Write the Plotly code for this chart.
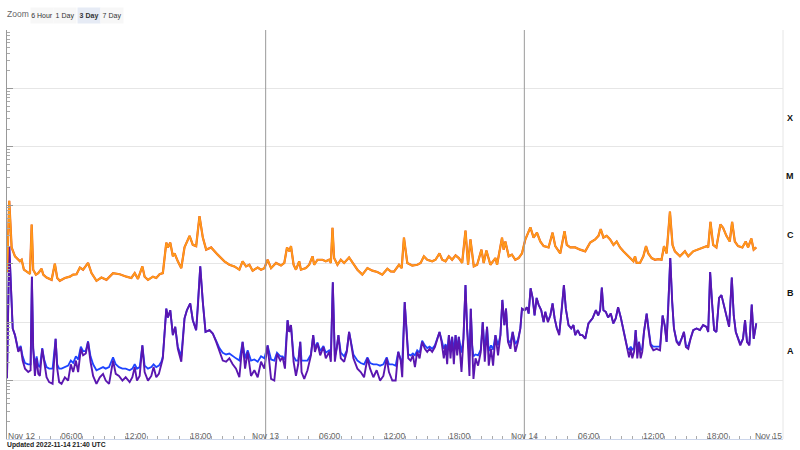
import pandas as pd
import plotly.graph_objects as go

# ---------------- data ----------------
start = pd.Timestamp("2022-11-12 00:00")
end = pd.Timestamp("2022-11-15 00:00")

# long channel 0.1-0.8 nm (orange): (hours since start, W/m^2)
long_series = [
    (0.0,7.0e-7),(0.21,1.19e-5),(0.43,1.9e-6),(0.74,1.34e-6),(1.20,1.1e-6),(1.36,1.17e-6),(1.57,7.9e-7),(2.13,6.7e-7),(2.29,4.7e-6),(2.43,7.9e-7),
    (2.68,6.5e-7),(2.90,6.9e-7),(3.21,8.2e-7),(3.36,6.5e-7),(3.67,5.8e-7),(4.14,5.3e-7),(4.44,1.0e-6),(4.66,5.7e-7),(4.90,5.1e-7),(5.37,5.7e-7),
    (5.83,6.0e-7),(6.14,6.5e-7),(6.45,6.6e-7),(6.76,8.6e-7),(7.06,7.9e-7),(7.52,1.03e-6),(7.84,6.9e-7),(8.30,5.1e-7),(8.76,5.8e-7),(9.23,5.3e-7),
    (9.84,6.9e-7),(10.46,6.6e-7),(11.08,6.0e-7),(11.54,5.7e-7),(11.85,6.9e-7),(12.15,5.5e-7),(12.56,9.0e-7),(12.77,6.0e-7),(13.08,5.3e-7),(13.54,6.0e-7),
    (13.85,5.7e-7),(14.16,6.6e-7),(14.46,6.9e-7),(14.78,2.3e-6),(14.93,1.9e-6),(15.15,2.3e-6),(15.39,1.34e-6),(15.55,1.5e-6),(15.85,1.1e-6),(16.17,8.4e-7),
    (16.47,1.9e-6),(16.94,3.0e-6),(17.24,2.1e-6),(17.55,2.0e-6),(17.86,6.5e-6),(18.17,2.8e-6),(18.48,1.74e-6),(18.94,1.9e-6),(19.55,1.43e-6),(20.17,1.1e-6),
    (20.63,9.6e-7),(21.09,9.0e-7),(21.56,7.9e-7),(21.86,1.1e-6),(22.18,9.0e-7),(22.49,9.6e-7),(22.79,7.6e-7),(23.26,8.6e-7),(23.57,7.9e-7),(23.88,8.4e-7),
    (24.18,1.17e-6),(24.50,8.4e-7),(24.96,1.03e-6),(25.42,9.3e-7),(25.73,1.03e-6),(25.98,1.9e-6),(26.19,1.63e-6),(26.35,2.0e-6),(26.59,9.6e-7),(26.81,7.9e-7),
    (27.11,1.1e-6),(27.27,7.9e-7),(27.73,8.4e-7),(28.04,9.6e-7),(28.35,1.34e-6),(28.50,9.6e-7),(28.81,1.17e-6),(29.27,1.17e-6),(29.58,1.1e-6),(29.89,1.17e-6),
    (30.05,1.03e-6),(30.20,4.1e-6),(30.35,1.25e-6),(30.66,9.6e-7),(30.97,1.17e-6),(31.28,1.03e-6),(31.74,1.28e-6),(32.05,1.03e-6),(32.51,7.9e-7),(32.97,6.5e-7),
    (33.44,8.4e-7),(33.90,7.6e-7),(34.36,7.2e-7),(34.82,6.5e-7),(35.29,8.2e-7),(35.60,7.4e-7),(35.91,7.3e-7),(36.37,9.6e-7),(36.62,8.4e-7),(36.83,2.8e-6),
    (37.14,1.03e-6),(37.60,9.3e-7),(38.07,9.6e-7),(38.38,1.03e-6),(38.68,1.34e-6),(38.99,1.17e-6),(39.45,1.1e-6),(39.76,1.17e-6),(40.13,1.5e-6),(40.38,1.17e-6),
    (40.69,1.1e-6),(40.99,1.34e-6),(41.30,1.17e-6),(41.62,1.39e-6),(41.92,1.25e-6),(42.23,1.03e-6),(42.54,3.7e-6),(42.78,9.6e-7),(43.00,2.6e-6),(43.31,9.0e-7),
    (43.62,9.6e-7),(44.02,1.74e-6),(44.23,1.03e-6),(44.48,1.68e-6),(44.85,9.6e-7),(45.32,1.25e-6),(45.47,9.6e-7),(45.93,2.8e-6),(46.08,1.74e-6),(46.24,2.4e-6),
    (46.55,1.34e-6),(46.85,1.43e-6),(47.16,1.17e-6),(47.47,1.25e-6),(47.78,1.5e-6),(48.09,2.6e-6),(48.56,4.2e-6),(48.86,2.8e-6),(49.17,3.4e-6),(49.48,2.4e-6),
    (49.79,2.0e-6),(50.25,1.9e-6),(50.62,3.4e-6),(50.87,2.0e-6),(51.33,1.5e-6),(51.73,3.6e-6),(51.94,2.1e-6),(52.26,1.9e-6),(52.72,1.9e-6),(53.18,1.74e-6),
    (53.65,1.63e-6),(54.11,2.3e-6),(54.57,2.6e-6),(54.88,3.0e-6),(55.09,3.9e-6),(55.34,2.8e-6),(55.64,3.0e-6),(55.96,2.6e-6),(56.27,2.1e-6),(56.57,2.4e-6),
    (56.88,1.9e-6),(57.19,1.63e-6),(57.50,1.43e-6),(57.81,1.25e-6),(58.12,1.1e-6),(58.27,1.34e-6),(58.42,1.03e-6),(58.73,1.03e-6),(59.04,1.34e-6),(59.29,2.0e-6),
    (59.50,1.5e-6),(59.81,1.25e-6),(60.12,1.17e-6),(60.43,1.2e-6),(60.73,1.17e-6),(60.96,2.0e-6),(61.20,1.5e-6),(61.51,7.8e-6),(61.75,2.1e-6),(61.97,1.63e-6),
    (62.44,1.34e-6),(62.90,1.63e-6),(63.21,1.34e-6),(63.67,1.63e-6),(64.13,1.74e-6),(64.59,1.9e-6),(64.90,2.0e-6),(65.06,1.9e-6),(65.27,5.2e-6),(65.52,2.1e-6),
    (65.82,1.9e-6),(66.19,4.7e-6),(66.44,4.1e-6),(66.75,3.0e-6),(67.06,2.4e-6),(67.28,5.2e-6),(67.53,2.4e-6),(67.83,2.0e-6),(68.23,1.9e-6),(68.54,2.4e-6),
    (68.76,1.9e-6),(69.06,2.7e-6),(69.28,1.74e-6),(69.52,1.9e-6),
]

# short channel 0.05-0.4 nm, sample times (hours since start)
short_hours = [
    0.0, 0.21, 0.53, 0.74, 1.05, 1.27, 1.45, 1.67, 1.97, 2.19,
    2.31, 2.43, 2.59, 2.75, 2.90, 3.05, 3.27, 3.45, 3.67, 3.91,
    4.23, 4.51, 4.66, 4.84, 5.06, 5.37, 5.67, 5.92, 6.14, 6.39,
    6.60, 6.85, 7.06, 7.31, 7.52, 7.75, 7.99, 8.30, 8.61, 8.91,
    9.16, 9.47, 9.84, 10.09, 10.39, 10.71, 11.01, 11.38, 11.63, 11.85,
    12.06, 12.31, 12.56, 12.77, 13.08, 13.39, 13.60, 13.85, 14.09, 14.32,
    14.46, 14.78, 14.93, 15.15, 15.39, 15.61, 15.85, 16.17, 16.47, 16.69,
    17.00, 17.24, 17.55, 17.70, 17.93, 18.17, 18.42, 18.79, 19.09, 19.41,
    19.71, 20.02, 20.33, 20.63, 20.94, 21.25, 21.56, 21.86, 22.09, 22.33,
    22.64, 22.95, 23.26, 23.57, 23.88, 24.18, 24.50, 24.80, 25.05, 25.36,
    25.57, 25.79, 26.03, 26.19, 26.35, 26.59, 26.81, 27.02, 27.21, 27.33,
    27.58, 27.88, 28.20, 28.41, 28.57, 28.81, 29.06, 29.36, 29.58, 29.89,
    30.05, 30.23, 30.42, 30.60, 30.75, 30.97, 31.28, 31.53, 31.74, 31.90,
    32.14, 32.51, 32.82, 33.13, 33.44, 33.69, 33.99, 34.30, 34.61, 34.92,
    35.23, 35.44, 35.75, 36.06, 36.30, 36.53, 36.67, 36.90, 37.04, 37.23,
    37.45, 37.66, 37.85, 38.06, 38.28, 38.52, 38.77, 38.99, 39.21, 39.45,
    39.70, 39.91, 40.13, 40.32, 40.53, 40.69, 40.84, 41.00, 41.15, 41.30,
    41.46, 41.62, 41.77, 41.92, 42.17, 42.35, 42.54, 42.69, 42.91, 43.03,
    43.16, 43.28, 43.47, 43.71, 43.96, 44.14, 44.33, 44.54, 44.70, 44.91,
    45.10, 45.32, 45.56, 45.78, 45.96, 46.15, 46.30, 46.48, 46.71, 46.92,
    47.17, 47.41, 47.63, 47.78, 48.03, 48.24, 48.40, 48.58, 48.77, 48.95,
    49.14, 49.32, 49.57, 49.79, 49.94, 50.19, 50.41, 50.62, 50.81, 51.02,
    51.24, 51.48, 51.67, 51.85, 52.10, 52.35, 52.56, 52.72, 52.96, 53.18,
    53.39, 53.65, 53.95, 54.33, 54.64, 54.85, 55.03, 55.19, 55.34, 55.56,
    55.77, 56.02, 56.26, 56.48, 56.70, 56.95, 57.10, 57.25, 57.41, 57.56,
    57.72, 57.87, 58.02, 58.18, 58.33, 58.48, 58.64, 58.79, 58.94, 59.10,
    59.35, 59.50, 59.72, 59.97, 60.27, 60.59, 60.83, 61.02, 61.20, 61.35,
    61.54, 61.72, 61.88, 62.13, 62.37, 62.59, 62.81, 62.99, 63.21, 63.42,
    63.67, 63.98, 64.29, 64.59, 64.90, 65.06, 65.24, 65.43, 65.61, 65.82,
    66.07, 66.29, 66.51, 66.75, 67.00, 67.25, 67.43, 67.62, 67.83, 68.04,
    68.29, 68.48, 68.66, 68.88, 69.10, 69.28, 69.52,
]

# short channel, primary satellite (purple)
short_a_flux = [
    1.1e-8, 2.0e-6, 7.8e-8, 6.0e-8, 3.1e-8, 3.75e-8, 2.2e-8, 1.6e-8, 1.4e-8, 1.5e-8,
    6.0e-7, 3.5e-8, 1.2e-8, 2.4e-8, 1.3e-8, 1.2e-8, 3.5e-8, 2.1e-8, 1.14e-8, 9.4e-9,
    8.8e-9, 5.2e-8, 1.6e-8, 9.4e-9, 8.8e-9, 1.14e-8, 1.0e-8, 1.9e-8, 1.4e-8, 2.2e-8,
    1.4e-8, 3.5e-8, 2.7e-8, 2.9e-8, 4.6e-8, 2.1e-8, 1.2e-8, 8.8e-9, 1.14e-8, 1.3e-8,
    1.0e-8, 8.8e-9, 2.2e-8, 1.3e-8, 1.2e-8, 1.0e-8, 1.14e-8, 9.4e-9, 1.14e-8, 1.7e-8,
    1.0e-8, 1.2e-8, 4.0e-8, 1.4e-8, 1.0e-8, 1.2e-8, 1.7e-8, 1.14e-8, 1.3e-8, 1.9e-8,
    2.4e-8, 1.7e-7, 1.2e-7, 1.6e-7, 6.0e-8, 8.3e-8, 3.5e-8, 2.1e-8, 1.16e-7, 1.6e-7,
    2.1e-7, 1.08e-7, 7.3e-8, 1.7e-7, 9.0e-7, 2.2e-7, 6.8e-8, 7.3e-8, 6.4e-8, 4.6e-8,
    3.1e-8, 2.2e-8, 2.1e-8, 2.4e-8, 1.9e-8, 1.6e-8, 1.14e-8, 4.6e-8, 1.6e-8, 3.1e-8,
    1.2e-8, 1.5e-8, 1.14e-8, 2.1e-8, 1.6e-8, 4.0e-8, 1.07e-8, 1.0e-8, 2.9e-8, 2.2e-8,
    2.5e-8, 1.6e-8, 1.08e-7, 6.8e-8, 8.9e-8, 2.1e-8, 1.2e-8, 1.9e-8, 4.6e-8, 1.4e-8,
    1.07e-8, 1.5e-8, 2.7e-8, 6.0e-8, 3.1e-8, 4.3e-8, 2.7e-8, 3.75e-8, 2.4e-8, 3.1e-8,
    2.1e-8, 4.8e-7, 2.1e-8, 3.5e-8, 6.0e-8, 2.4e-8, 2.1e-8, 3.1e-8, 6.8e-8, 4.6e-8,
    2.4e-8, 1.6e-8, 1.4e-8, 1.14e-8, 2.4e-8, 1.6e-8, 1.14e-8, 1.5e-8, 1.0e-8, 1.2e-8,
    2.4e-8, 1.4e-8, 1.0e-8, 1.0e-8, 3.1e-8, 2.2e-8, 1.14e-8, 2.2e-7, 7.8e-8, 2.4e-8,
    2.2e-8, 2.7e-8, 1.7e-8, 3.1e-8, 2.4e-8, 4.6e-8, 3.5e-8, 3.1e-8, 3.5e-8, 3.1e-8,
    3.75e-8, 5.2e-8, 6.8e-8, 4.6e-8, 2.4e-8, 4.0e-8, 1.9e-8, 6.0e-8, 2.4e-8, 5.6e-8,
    1.9e-8, 6.0e-8, 2.7e-8, 5.6e-8, 1.4e-8, 5.2e-8, 4.3e-7, 7.8e-8, 1.2e-8, 1.7e-7,
    4.0e-8, 1.07e-8, 2.4e-8, 1.8e-8, 3.1e-8, 1.0e-7, 2.1e-8, 8.3e-8, 1.8e-8, 3.5e-8,
    1.8e-8, 6.0e-8, 2.7e-8, 6.0e-8, 2.4e-7, 8.9e-8, 1.7e-7, 4.6e-8, 3.5e-8, 6.8e-8,
    3.1e-8, 4.6e-8, 7.8e-8, 1.7e-7, 1.6e-7, 1.8e-7, 1.4e-7, 3.8e-7, 2.6e-7, 1.3e-7,
    2.6e-7, 2.0e-7, 1.6e-7, 1.0e-7, 1.5e-7, 1.0e-7, 1.3e-7, 2.1e-7, 1.16e-7, 7.8e-8,
    6.0e-8, 1.7e-7, 4.3e-7, 1.7e-7, 8.9e-8, 7.8e-8, 8.9e-8, 6.0e-8, 7.3e-8, 6.0e-8,
    6.0e-8, 5.2e-8, 9.5e-8, 1.16e-7, 1.6e-7, 1.3e-7, 1.6e-7, 3.9e-7, 1.6e-7, 1.5e-7,
    1.2e-7, 1.4e-7, 9.5e-8, 1.16e-7, 1.8e-7, 1.2e-7, 8.9e-8, 6.0e-8, 4.6e-8, 3.1e-8,
    2.5e-8, 3.5e-8, 2.4e-8, 3.1e-8, 7.3e-8, 2.4e-8, 4.6e-8, 2.4e-8, 3.1e-8, 6.8e-8,
    1.4e-7, 7.8e-8, 4.0e-8, 3.3e-8, 3.5e-8, 3.3e-8, 1.3e-7, 8.9e-8, 4.6e-8, 1.7e-7,
    1.25e-6, 2.2e-7, 7.8e-8, 4.6e-8, 4.0e-8, 5.2e-8, 6.8e-8, 3.75e-8, 3.5e-8, 5.2e-8,
    7.3e-8, 7.8e-8, 7.3e-8, 8.9e-8, 8.3e-8, 6.8e-8, 7.2e-7, 2.0e-7, 7.3e-8, 6.8e-8,
    2.6e-7, 2.9e-7, 2.0e-7, 1.3e-7, 8.3e-8, 5.8e-7, 1.3e-7, 6.8e-8, 5.2e-8, 4.0e-8,
    5.2e-8, 1.08e-7, 4.6e-8, 4.0e-8, 2.0e-7, 5.2e-8, 9.5e-8,
]

# short channel, secondary satellite (blue)
short_b_flux = [
    1.1e-8, 2.0e-6, 7.8e-8, 6.0e-8, 3.3e-8, 3.9e-8, 2.6e-8, 2.0e-8, 1.9e-8, 1.9e-8,
    6.0e-7, 3.6e-8, 1.8e-8, 2.6e-8, 1.8e-8, 1.7e-8, 3.6e-8, 2.3e-8, 1.7e-8, 1.6e-8,
    1.6e-8, 5.2e-8, 1.9e-8, 1.6e-8, 1.6e-8, 1.7e-8, 1.8e-8, 2.2e-8, 2.0e-8, 2.6e-8,
    2.3e-8, 3.8e-8, 3.2e-8, 3.2e-8, 4.7e-8, 2.6e-8, 1.9e-8, 1.5e-8, 1.6e-8, 1.7e-8,
    1.6e-8, 1.7e-8, 2.5e-8, 1.9e-8, 1.7e-8, 1.6e-8, 1.6e-8, 1.5e-8, 1.6e-8, 1.9e-8,
    1.6e-8, 1.7e-8, 4.0e-8, 1.8e-8, 1.6e-8, 1.7e-8, 1.9e-8, 1.7e-8, 1.8e-8, 2.1e-8,
    2.6e-8, 1.7e-7, 1.2e-7, 1.6e-7, 6.0e-8, 8.3e-8, 3.8e-8, 2.6e-8, 1.16e-7, 1.6e-7,
    2.1e-7, 1.08e-7, 7.3e-8, 1.7e-7, 9.0e-7, 2.2e-7, 6.8e-8, 7.3e-8, 6.4e-8, 4.8e-8,
    3.6e-8, 3.0e-8, 2.8e-8, 2.9e-8, 2.6e-8, 2.4e-8, 2.2e-8, 4.6e-8, 2.4e-8, 3.3e-8,
    2.2e-8, 2.3e-8, 2.1e-8, 2.6e-8, 2.4e-8, 4.0e-8, 2.3e-8, 2.2e-8, 3.0e-8, 2.6e-8,
    2.6e-8, 2.3e-8, 1.08e-7, 6.8e-8, 8.9e-8, 2.6e-8, 2.2e-8, 2.2e-8, 4.6e-8, 2.2e-8,
    2.2e-8, 2.2e-8, 2.8e-8, 6.0e-8, 3.6e-8, 4.5e-8, 3.2e-8, 3.9e-8, 3.0e-8, 3.3e-8,
    2.8e-8, 4.8e-7, 2.6e-8, 3.6e-8, 6.0e-8, 3.0e-8, 2.6e-8, 3.3e-8, 6.8e-8, 4.6e-8,
    2.8e-8, 2.2e-8, 2.0e-8, 1.9e-8, 2.5e-8, 2.0e-8, 1.9e-8, 1.9e-8, 1.8e-8, 1.9e-8,
    2.5e-8, 1.9e-8, 1.9e-8, 1.8e-8, 3.1e-8, 2.3e-8, 2.0e-8, 2.2e-7, 7.8e-8, 2.8e-8,
    2.7e-8, 2.9e-8, 2.7e-8, 3.3e-8, 3.0e-8, 4.8e-8, 4.0e-8, 3.6e-8, 3.8e-8, 3.5e-8,
    4.0e-8, 5.4e-8, 6.8e-8, 5.0e-8, 3.5e-8, 4.2e-8, 3.2e-8, 6.0e-8, 3.4e-8, 5.6e-8,
    3.2e-8, 6.0e-8, 3.5e-8, 5.6e-8, 3.0e-8, 5.2e-8, 4.3e-7, 7.8e-8, 2.6e-8, 1.7e-7,
    4.0e-8, 2.6e-8, 2.8e-8, 2.7e-8, 3.4e-8, 1.0e-7, 3.2e-8, 8.3e-8, 3.2e-8, 4.0e-8,
    3.4e-8, 6.0e-8, 4.0e-8, 6.0e-8, 2.4e-7, 8.9e-8, 1.7e-7, 5.0e-8, 4.4e-8, 6.8e-8,
    4.2e-8, 5.0e-8, 7.8e-8, 1.7e-7, 1.6e-7, 1.8e-7, 1.4e-7, 3.8e-7, 2.6e-7, 1.3e-7,
    2.6e-7, 2.0e-7, 1.6e-7, 1.0e-7, 1.5e-7, 1.05e-7, 1.3e-7, 2.1e-7, 1.16e-7, 7.8e-8,
    6.5e-8, 1.7e-7, 4.3e-7, 1.7e-7, 8.9e-8, 7.8e-8, 8.9e-8, 6.0e-8, 7.3e-8, 6.0e-8,
    6.0e-8, 5.2e-8, 9.5e-8, 1.16e-7, 1.6e-7, 1.3e-7, 1.6e-7, 3.9e-7, 1.6e-7, 1.5e-7,
    1.2e-7, 1.4e-7, 9.5e-8, 1.16e-7, 1.8e-7, 1.2e-7, 8.9e-8, 6.0e-8, 4.8e-8, 3.6e-8,
    3.4e-8, 3.8e-8, 3.4e-8, 3.6e-8, 7.3e-8, 3.4e-8, 4.6e-8, 3.3e-8, 3.5e-8, 6.8e-8,
    1.4e-7, 7.8e-8, 4.2e-8, 3.8e-8, 3.8e-8, 3.8e-8, 1.3e-7, 8.9e-8, 4.6e-8, 1.7e-7,
    1.25e-6, 2.2e-7, 7.8e-8, 4.8e-8, 4.3e-8, 5.2e-8, 6.8e-8, 4.0e-8, 3.9e-8, 5.2e-8,
    7.3e-8, 7.8e-8, 7.3e-8, 8.9e-8, 8.3e-8, 6.8e-8, 7.2e-7, 2.0e-7, 7.3e-8, 6.8e-8,
    2.6e-7, 2.9e-7, 2.0e-7, 1.3e-7, 8.3e-8, 5.8e-7, 1.3e-7, 6.8e-8, 5.2e-8, 4.2e-8,
    5.2e-8, 1.08e-7, 4.6e-8, 4.2e-8, 2.0e-7, 5.2e-8, 9.5e-8,
]

assert len(short_hours) == len(short_a_flux) == len(short_b_flux)

# axis tick labels (every 6 hours) and flare classes
tick_hours = [0, 6, 12, 18, 24, 30, 36, 42, 48, 54, 60, 66, 72]
tick_text = ["Nov 12", "06:00", "12:00", "18:00", "Nov 13", "06:00", "12:00",
             "18:00", "Nov 14", "06:00", "12:00", "18:00", "Nov 15"]
flare_classes = ["X", "M", "C", "B", "A"]
flare_class_log_mid = [-3.5, -4.5, -5.5, -6.5, -7.5]
day_lines_hours = [24, 48]
zoom_buttons = ["6 Hour", "1 Day", "3 Day", "7 Day"]
updated_text = "Updated 2022-11-14 21:40 UTC"

# ---------------- figure ----------------
def t(h):
    return start + pd.to_timedelta(h, unit="h")

long_t = [t(h) for h, _ in long_series]
long_v = [v for _, v in long_series]
short_t = [t(h) for h in short_hours]

W, H = 800, 450
L, R, T, B = 7, 17, 30, 11
PW, PH = W - L - R, H - T - B

def px(x):
    return (x - L) / PW

def py(y):
    return (H - B - y) / PH

fig = go.Figure()
fig.add_trace(go.Scatter(x=short_t, y=short_b_flux, mode="lines",
                         line=dict(color="#1e44ff", width=1.8), hoverinfo="skip"))
fig.add_trace(go.Scatter(x=short_t, y=short_a_flux, mode="lines",
                         line=dict(color="#5a16b0", width=1.9), hoverinfo="skip"))
fig.add_trace(go.Scatter(x=long_t, y=long_v, mode="lines",
                         line=dict(color="#e8531e", width=2.2), hoverinfo="skip"))
fig.add_trace(go.Scatter(x=long_t, y=long_v, mode="lines",
                         line=dict(color="#ff9a1a", width=1.7), hoverinfo="skip"))

shapes = []
for h in day_lines_hours:
    shapes.append(dict(type="line", xref="x", yref="paper", x0=t(h), x1=t(h), y0=0, y1=1,
                       line=dict(color="#9a9a9a", width=1)))
shapes.append(dict(type="line", xref="paper", yref="paper", x0=1, x1=1, y0=0, y1=1,
                   line=dict(color="#e6e6e6", width=1)))

ann = []
font = "Liberation Sans, Arial, sans-serif"
for h, txt in zip(tick_hours, tick_text):
    anchor = "center"
    if h == tick_hours[0]:
        anchor = "left"
    elif h == tick_hours[-1]:
        anchor = "right"
    ann.append(dict(x=t(h), y=py(435.5), xref="x", yref="paper", text=txt, showarrow=False,
                    xanchor=anchor, yanchor="middle", borderpad=0,
                    font=dict(size=8.5, color="#666666", family=font)))
for lab, lv in zip(flare_classes, flare_class_log_mid):
    ann.append(dict(x=px(790), y=lv, xref="paper", yref="y", text="<b>%s</b>" % lab, showarrow=False,
                    xanchor="center", yanchor="middle", font=dict(size=9, color="#111111", family=font)))

ann.append(dict(x=px(6), y=py(14), xref="paper", yref="paper", text="Zoom", showarrow=False,
                xanchor="left", yanchor="middle", borderpad=0,
                font=dict(size=8.5, color="#666666", family=font)))
btn_centers = [41.7, 65.0, 88.5, 111.8]
for lab, cx in zip(zoom_buttons, btn_centers):
    sel = lab == "3 Day"
    ann.append(dict(x=px(cx), y=py(15), xref="paper", yref="paper",
                    text=("<b>%s</b>" % lab) if sel else lab, showarrow=False,
                    xanchor="center", yanchor="middle", width=22, height=15, borderpad=0,
                    bgcolor="#e6ebf5" if sel else "#f7f7f7",
                    font=dict(size=7, color="#333333", family=font)))
ann.append(dict(x=px(6), y=py(445), xref="paper", yref="paper", text="<b>%s</b>" % updated_text,
                showarrow=False, xanchor="left", yanchor="middle", borderpad=0,
                font=dict(size=6.8, color="#222222", family=font)))

fig.update_layout(
    width=W, height=H, margin=dict(l=L, r=R, t=T, b=B, pad=0),
    paper_bgcolor="white", plot_bgcolor="white", showlegend=False,
    shapes=shapes, annotations=ann, hovermode=False,
    xaxis=dict(type="date", range=[start, end], showgrid=False, zeroline=False,
               showticklabels=False, showline=True, linecolor="#ccd6eb", linewidth=1,
               ticks="inside", ticklen=3, tickcolor="#aaaaaa", tick0=start, dtick=6 * 3600000,
               minor=dict(ticks="inside", ticklen=3, tickcolor="#aaaaaa", dtick=3600000, showgrid=False)),
    yaxis=dict(type="log", range=[-9, -2], dtick=1, showgrid=True, gridcolor="#e6e6e6",
               zeroline=False, showticklabels=False, showline=True, linecolor="#999999",
               linewidth=1, ticks="inside", ticklen=6, tickcolor="#999999",
               minor=dict(ticks="inside", ticklen=3, tickcolor="#aaaaaa", showgrid=False)),
)

fig.write_html("out.html")
